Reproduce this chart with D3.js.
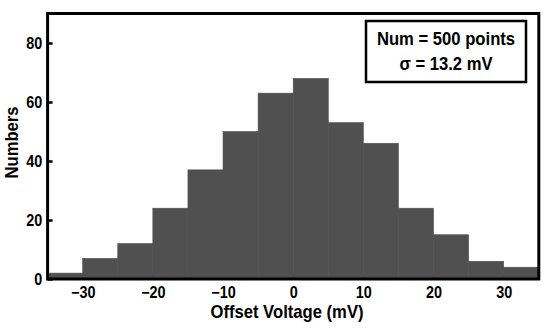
<!DOCTYPE html>
<html>
<head>
<meta charset="utf-8">
<script src="https://cdn.jsdelivr.net/npm/d3@7"></script>
<style>
  body { margin: 0; background: #fff; }
  text { font-family: "Liberation Sans", Arial, sans-serif; font-weight: bold; }
</style>
</head>
<body>
<div id="chart-area"></div>
<script>
// histogram bins (mV) and counts
const binStarts = [-35, -30, -25, -20, -15, -10, -5, 0, 5, 10, 15, 20, 25, 30]
const binWidth = 5
const counts = [2, 7, 12, 24, 37, 50, 63, 68, 53, 46, 24, 15, 6, 4]
const xTicks = [-30, -20, -10, 0, 10, 20, 30]
const yTicks = [0, 20, 40, 60, 80]
const statLines = ["Num = 500 points", "σ = 13.2 mV"]

const WIDTH = 550
const HEIGHT = 330
const SQUEEZE = "scale(0.9,1)" // the original font is a bit narrow

const svg = d3.select("#chart-area").append("svg")
  .attr("width", WIDTH)
  .attr("height", HEIGHT)

const x = d3.scaleLinear()
  .domain([-35, 35])
  .range([47.6, 538.8])

const y = d3.scaleLinear()
  .domain([0, 90])
  .range([279, 13.5])

// x axis first so the bars hide its inward ticks
const xAxis = svg.append("g")
  .attr("transform", `translate(0, ${y(0)})`)
  .call(d3.axisBottom(x).tickValues(xTicks).tickSizeInner(-5).tickSizeOuter(0).tickPadding(8))
  .attr("font-size", 16)
xAxis.select(".domain").remove()
xAxis.selectAll(".tick line").attr("stroke-width", 2.5)
xAxis.selectAll(".tick text").attr("fill", "#000").attr("transform", SQUEEZE)

const bins = binStarts.map((s, i) => ({ start: s, count: counts[i] }))

svg.selectAll("rect.bar")
  .data(bins)
  .enter().append("rect")
  .attr("class", "bar")
  .attr("x", d => x(d.start))
  .attr("width", d => x(d.start + binWidth) - x(d.start))
  .attr("y", d => y(d.count))
  .attr("height", d => y(0) - y(d.count))
  .attr("fill", "#505050")
  .attr("stroke", "#505050")
  .attr("stroke-width", 0.6)

const yAxis = svg.append("g")
  .attr("transform", `translate(${x(-35)}, 0)`)
  .call(d3.axisLeft(y).tickValues(yTicks).tickSizeInner(-5).tickSizeOuter(0).tickPadding(6))
  .attr("font-size", 16)
yAxis.select(".domain").remove()
yAxis.selectAll(".tick line").attr("stroke-width", 2.5)
yAxis.selectAll(".tick text").attr("fill", "#000").attr("transform", SQUEEZE)

// plot frame
const [x0, x1] = x.range()
const [yb, yt] = y.range()
svg.append("rect")
  .attr("x", x0)
  .attr("y", yt)
  .attr("width", x1 - x0)
  .attr("height", yb - yt)
  .attr("fill", "none")
  .attr("stroke", "#000")
  .attr("stroke-width", 3)

svg.append("text")
  .attr("transform", `translate(287, 318) ${SQUEEZE}`)
  .attr("text-anchor", "middle")
  .attr("font-size", 18.5)
  .text("Offset Voltage (mV)")

svg.append("text")
  .attr("transform", `translate(18, 142.5) rotate(-90) ${SQUEEZE}`)
  .attr("text-anchor", "middle")
  .attr("font-size", 18.5)
  .text("Numbers")

// stats box
svg.append("rect")
  .attr("x", 366)
  .attr("y", 21)
  .attr("width", 160)
  .attr("height", 61)
  .attr("fill", "#fff")
  .attr("stroke", "#000")
  .attr("stroke-width", 2.5)

svg.selectAll("text.stat")
  .data(statLines)
  .enter().append("text")
  .attr("class", "stat")
  .attr("transform", (d, i) => `translate(446, ${45 + i * 25}) ${SQUEEZE}`)
  .attr("text-anchor", "middle")
  .attr("font-size", 18.5)
  .text(d => d)
</script>
</body>
</html>
